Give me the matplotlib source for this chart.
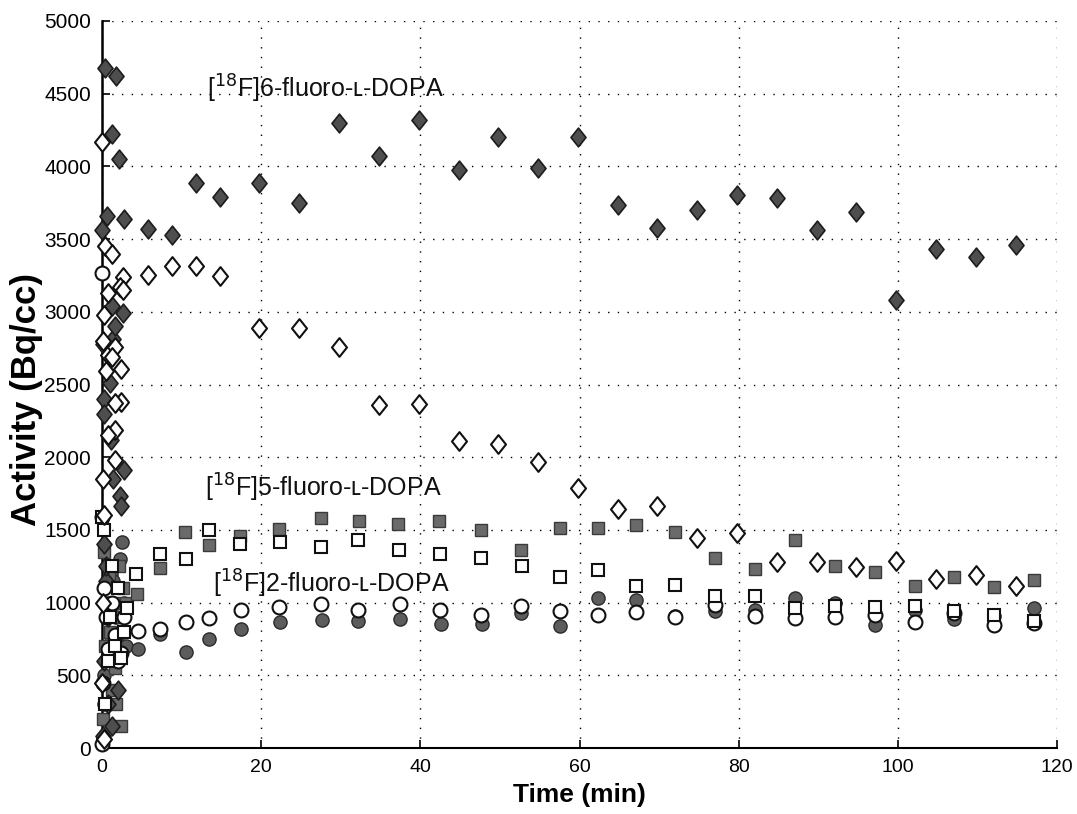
import matplotlib
matplotlib.use("Agg")
import matplotlib.pyplot as plt
from matplotlib.path import Path

plt.rcParams['font.family'] = ['Liberation Sans', 'DejaVu Sans']

# [18F]6-fluoro-L-DOPA, filled diamonds
t6_filled = [0.0, 0.1, 0.2, 0.3, 0.4, 0.5, 0.6, 0.8, 1.0, 1.1, 1.2, 1.3, 1.4, 1.4, 1.6,
             1.8, 2.1, 2.2, 2.4, 2.6, 2.8, 2.8, 0.1, 0.3, 0.8, 1.3, 0.2, 0.5, 1.5, 2.0,
             5.8, 8.8, 11.8, 14.8, 19.7, 24.8, 29.8, 34.8, 39.8, 44.8, 49.8, 54.8, 59.8,
             64.8, 69.8, 74.8, 79.8, 84.8, 89.8, 94.8, 99.8, 104.8, 109.8, 114.8]
a6_filled = [3560, 2780, 1400, 2400, 4680, 1150, 3660, 300, 2510, 2120, 3040, 4220, 2810, 1850, 2900,
             4620, 4050, 1735, 1665, 2990, 3640, 1915, 80, 600, 900, 150, 2300, 1250, 650, 400,
             3570, 3530, 3885, 3789, 3885, 3748, 4298, 4069, 4321, 3977, 4200, 3989, 4200,
             3736, 3573, 3698, 3800, 3784, 3566, 3686, 3080, 3430, 3375, 3459]

# [18F]6-fluoro-L-DOPA, open diamonds
t6_open = [0.0, 0.4, 1.3, 2.6, 2.3, 0.8, 0.8, 2.6, 0.3, 0.1, 1.6, 1.2, 2.4, 0.5, 2.4, 1.6,
           1.6, 0.8, 1.6, 0.1, 0.2, 0.1, 0.0, 0.2,
           5.8, 8.8, 11.8, 14.8, 19.7, 24.8, 29.8, 34.8, 39.8, 44.8, 49.8, 54.8, 59.8,
           64.8, 69.8, 74.8, 79.8, 84.8, 89.8, 94.8, 99.8, 104.8, 109.8, 114.8]
a6_open = [4170, 3450, 3400, 3240, 3170, 3130, 2700, 3150, 2980, 2800, 2760, 2690, 2610, 2590, 2380, 2370,
           2190, 2150, 1980, 1850, 1600, 1000, 450, 60,
           3250, 3317, 3317, 3243, 2890, 2888, 2756, 2356, 2368, 2112, 2094, 1968, 1788,
           1645, 1661, 1442, 1479, 1279, 1279, 1244, 1286, 1164, 1189, 1117]

# [18F]5-fluoro-L-DOPA, filled squares
t5_filled = [0.1, 0.3, 0.6, 0.9, 1.2, 1.5, 1.8, 2.1, 2.4, 2.7, 3.0, 0.4, 1.0, 1.6, 2.2,
             4.4, 7.3, 10.4, 13.4, 17.4, 22.3, 27.5, 32.3, 37.2, 42.4, 47.6, 52.7, 57.5,
             62.3, 67.1, 72.0, 77.0, 82.1, 87.1, 92.1, 97.1, 102.1, 107.1, 112.1, 117.1]
a5_filled = [200, 1350, 1000, 1200, 400, 1000, 300, 1250, 150, 1100, 1000, 700, 800, 550, 900,
             1060, 1241, 1488, 1396, 1461, 1509, 1581, 1562, 1544, 1558, 1498, 1362, 1516,
             1516, 1535, 1488, 1309, 1233, 1433, 1251, 1212, 1115, 1175, 1106, 1152]

# [18F]5-fluoro-L-DOPA, open squares
t5_open = [0.0, 0.2, 0.4, 0.7, 1.0, 1.3, 1.6, 2.0, 2.4, 2.8, 3.2,
           4.3, 7.3, 10.6, 13.4, 17.4, 22.4, 27.5, 32.2, 37.3, 42.5, 47.6, 52.8, 57.5,
           62.3, 67.1, 72.0, 77.0, 82.1, 87.1, 92.1, 97.1, 102.1, 107.1, 112.1, 117.1]
a5_open = [1590, 1500, 300, 600, 900, 1250, 700, 1100, 620, 800, 960,
           1195, 1333, 1303, 1500, 1401, 1419, 1382, 1429, 1360, 1332, 1309, 1249, 1175,
           1221, 1113, 1124, 1048, 1048, 965, 975, 968, 980, 940, 912, 871]

# [18F]2-fluoro-L-DOPA, filled circles
t2_filled = [0.1, 0.2, 0.3, 0.5, 0.8, 1.1, 1.4, 1.7, 2.0, 2.3, 2.5, 2.8, 3.0,
             4.5, 7.3, 10.5, 13.4, 17.5, 22.4, 27.6, 32.2, 37.4, 42.6, 47.7, 52.7, 57.5,
             62.3, 67.1, 72.0, 77.0, 82.1, 87.1, 92.1, 97.1, 102.1, 107.1, 112.1, 117.1]
a2_filled = [60, 500, 300, 700, 1000, 1200, 1150, 900, 780, 1300, 1420, 1000, 700,
             678, 782, 658, 747, 816, 869, 878, 873, 885, 850, 850, 929, 836,
             1032, 1021, 906, 940, 952, 1032, 998, 848, 952, 889, 906, 963]

# [18F]2-fluoro-L-DOPA, open circles
t2_open = [0.0, 0.0, 0.1, 0.0, 0.3, 0.5, 0.8, 1.2, 1.6, 2.0, 2.4, 2.8,
           4.5, 7.3, 10.5, 13.4, 17.5, 22.3, 27.5, 32.2, 37.4, 42.5, 47.6, 52.7, 57.5,
           62.3, 67.1, 72.0, 77.0, 82.1, 87.1, 92.1, 97.1, 102.1, 107.1, 112.1, 117.1]
a2_open = [3270, 1590, 450, 30, 1100, 900, 680, 1000, 780, 600, 650, 900,
           805, 815, 869, 896, 947, 970, 988, 952, 988, 952, 917, 975, 940,
           917, 933, 900, 985, 910, 894, 899, 917, 866, 930, 848, 859]

x_ticks = [0, 20, 40, 60, 80, 100, 120]
y_ticks = [0, 500, 1000, 1500, 2000, 2500, 3000, 3500, 4000, 4500, 5000]

# upright diamond, a little narrower than it is tall
tall_diamond = Path([(0, 1), (0.8, 0), (0, -1), (-0.8, 0), (0, 1)],
                    [Path.MOVETO, Path.LINETO, Path.LINETO, Path.LINETO, Path.CLOSEPOLY])

fig = plt.figure(figsize=(10.77, 8.14), dpi=100)
ax = fig.add_axes([102 / 1077, 1 - 748 / 814, 955 / 1077, 727 / 814])

common = dict(ls='none', clip_on=False)
# filled series first, open ones on top
ax.plot(t2_filled, a2_filled, 'o', ms=9.5, mfc='#5c5c5c', mec='#2a2a2a', mew=1.0, zorder=3, **common)
ax.plot(t5_filled, a5_filled, 's', ms=8, mfc='#6a6a6a', mec='#3a3a3a', mew=1.0, zorder=3, **common)
ax.plot(t6_filled, a6_filled, marker=tall_diamond, ms=13.5, mfc='#4e4e4e', mec='#1c1c1c', mew=1.2,
        zorder=3, **common)
ax.plot(t2_open, a2_open, 'o', ms=10, mfc='white', mec='#111111', mew=1.5, zorder=4, **common)
ax.plot(t5_open, a5_open, 's', ms=8, mfc='white', mec='#111111', mew=1.5, zorder=4, **common)
ax.plot(t6_open, a6_open, marker=tall_diamond, ms=13.5, mfc='white', mec='#111111', mew=1.5,
        zorder=4, **common)

ax.set_xlim(0, 120)
ax.set_ylim(0, 5000)
ax.set_xticks(x_ticks)
ax.set_yticks(y_ticks)
ax.tick_params(direction='in', length=6, width=1.2, labelsize=14, colors='black')
ax.tick_params(axis='x', pad=8)
ax.tick_params(axis='y', pad=8, labelsize=15)
ax.grid(True, color='black', linestyle=(0, (1, 6)), linewidth=1.0)
ax.spines['top'].set_visible(False)
ax.spines['right'].set_visible(False)
ax.spines['left'].set_linewidth(1.8)
ax.spines['bottom'].set_linewidth(1.5)

ax.set_xlabel('Time (min)', fontsize=19, fontweight='bold', labelpad=5)
fig.text(27 / 1077, 1 - 400 / 814, 'Activity (Bq/cc)', rotation=90, ha='center', va='center',
         fontsize=25, fontweight='bold')

lab_kw = dict(fontsize=18, va='center', ha='left', color='#111111')
ax.text(13.2, 4530, '[$^{18}$F]6-fluoro-ʟ-DOPA', **lab_kw)
ax.text(12.9, 1790, '[$^{18}$F]5-fluoro-ʟ-DOPA', **lab_kw)
ax.text(13.9, 1130, '[$^{18}$F]2-fluoro-ʟ-DOPA', **lab_kw)

fig.savefig('out.png', dpi=100)
